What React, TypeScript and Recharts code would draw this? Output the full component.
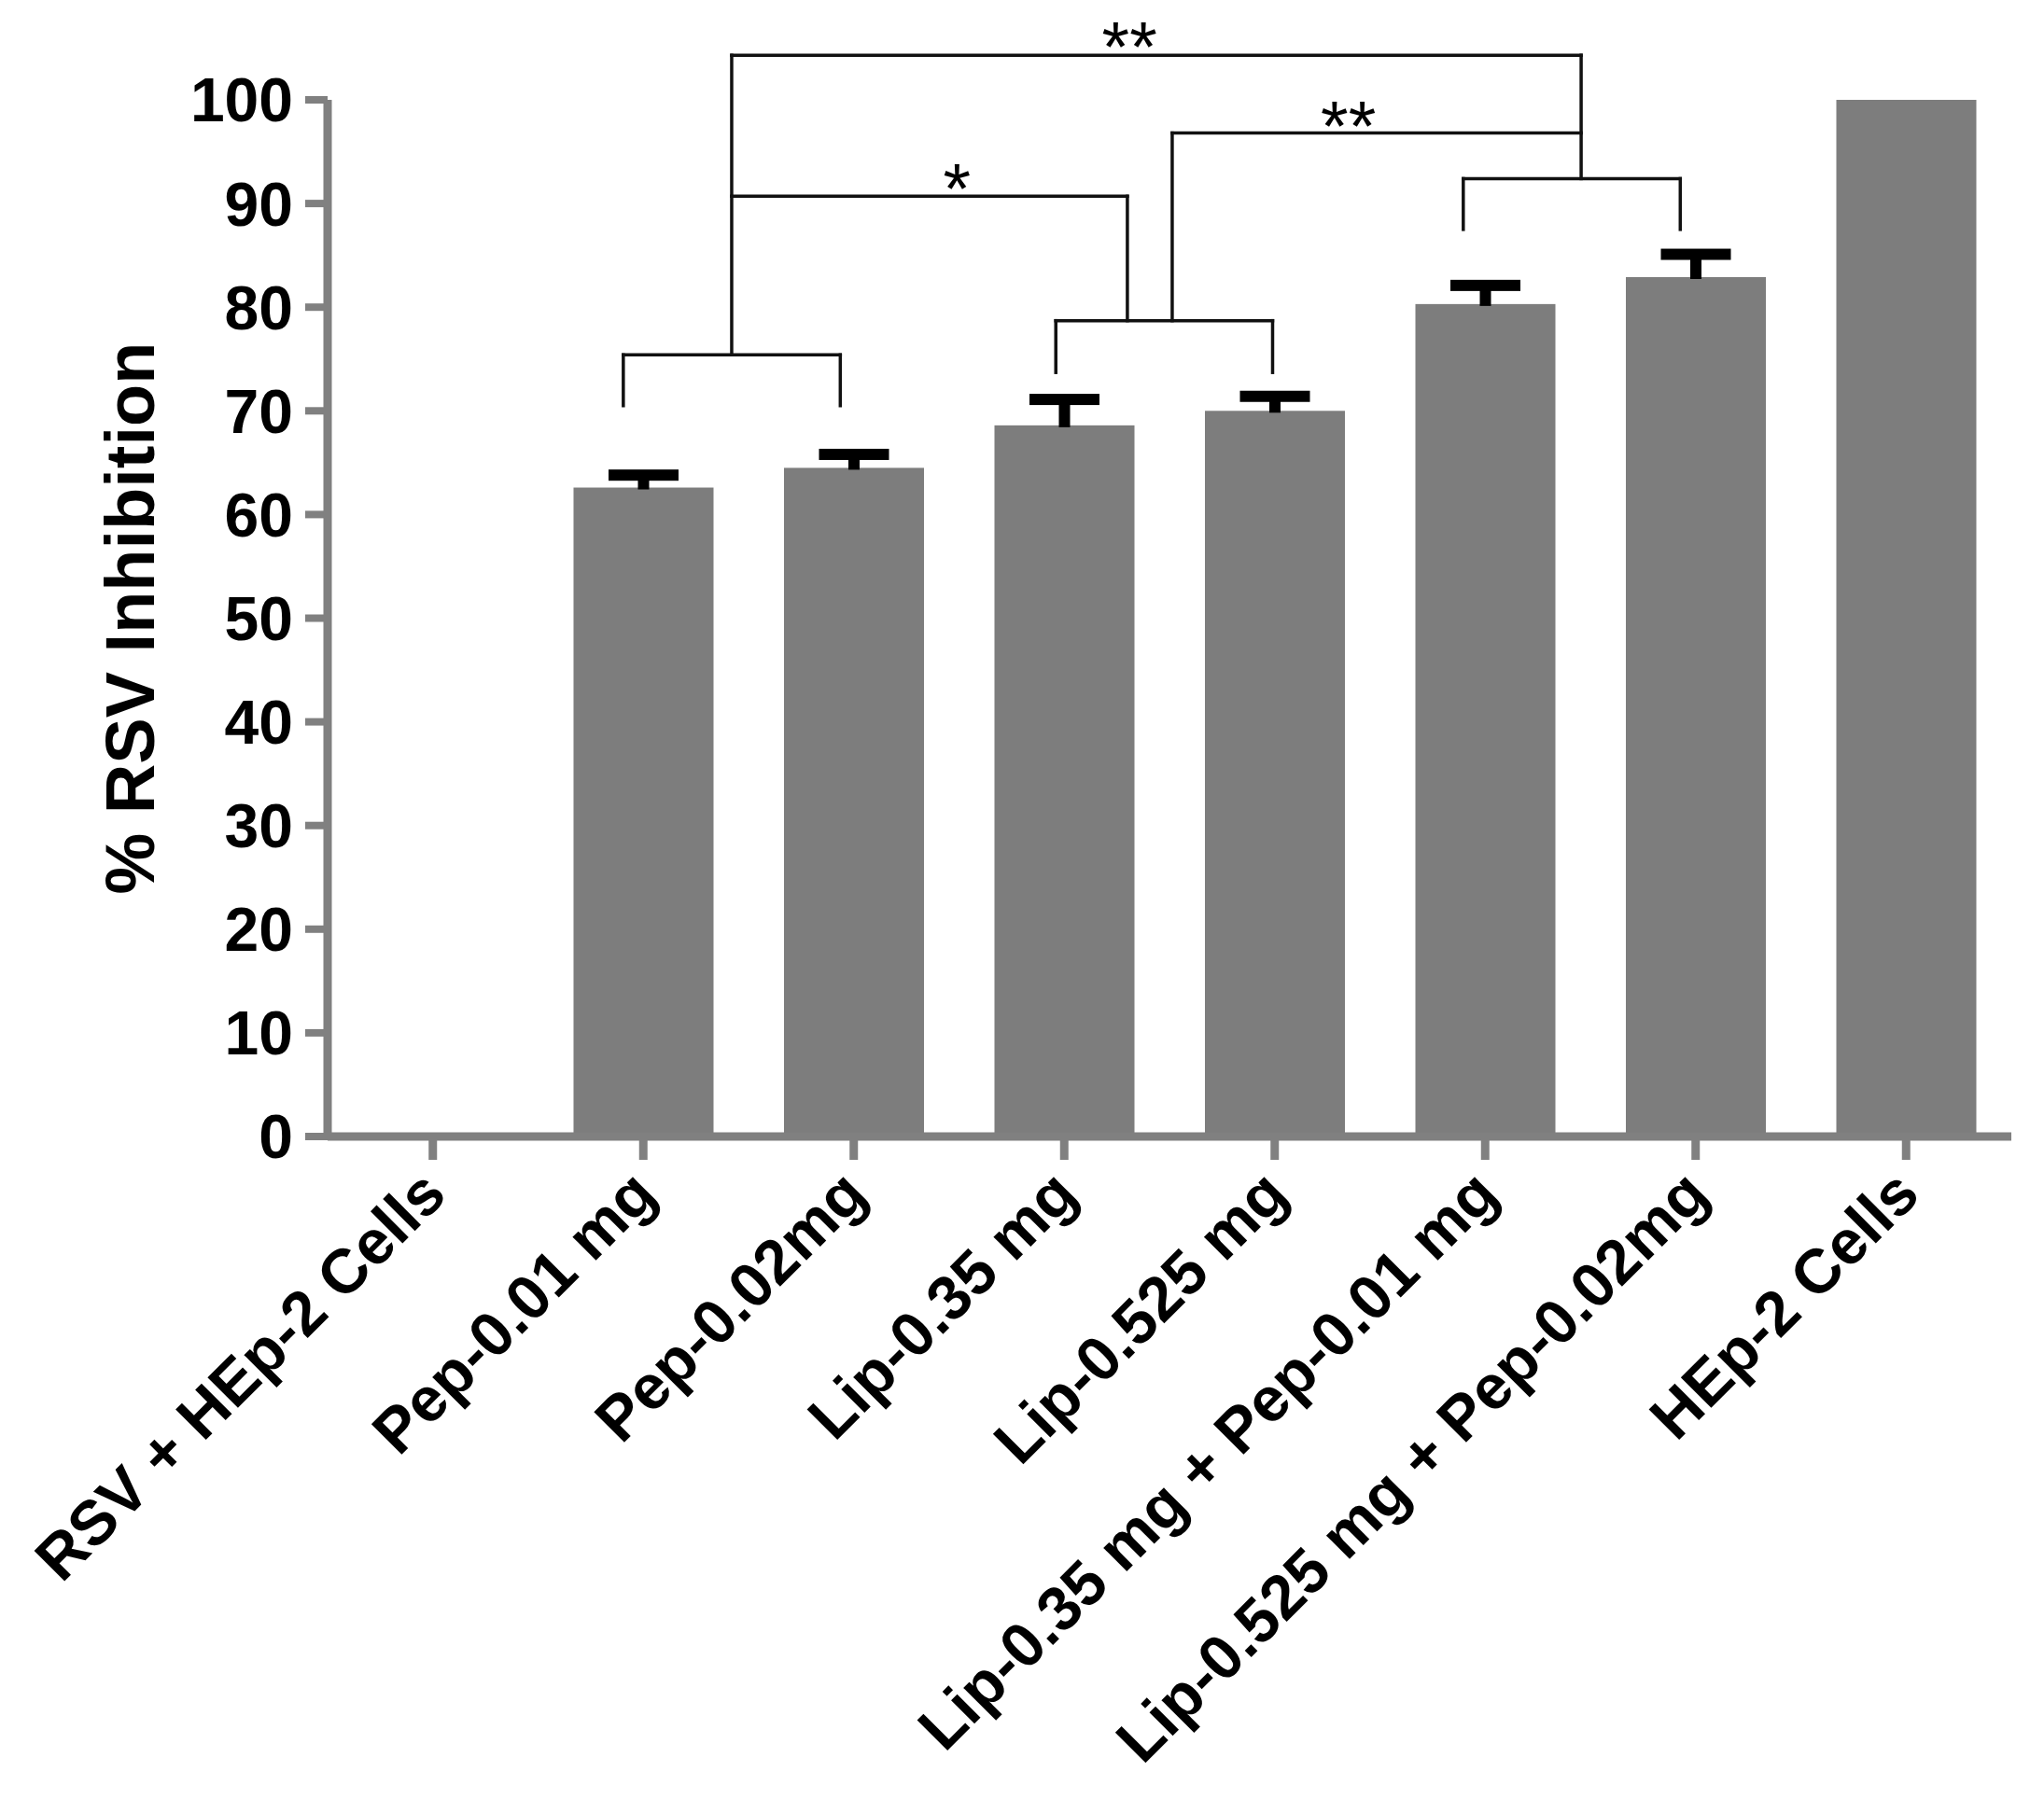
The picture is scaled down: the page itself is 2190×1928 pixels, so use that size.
import React from 'react';
import { ComposedChart, Bar, XAxis, YAxis, ReferenceLine, ReferenceDot } from 'recharts';

const categories = [
  'RSV + HEp-2 Cells',
  'Pep-0.01 mg',
  'Pep-0.02mg',
  'Lip-0.35 mg',
  'Lip-0.525 mg',
  'Lip-0.35 mg + Pep-0.01 mg',
  'Lip-0.525 mg + Pep-0.02mg',
  'HEp-2 Cells',
];
const inhibition = [0, 62.6, 64.5, 68.6, 70.0, 80.3, 82.9, 100];
const errorUp = [0, 1.2, 1.3, 2.5, 1.4, 1.8, 2.2, 0];
const yTicks = [0, 10, 20, 30, 40, 50, 60, 70, 80, 90, 100];
const xTicks = categories.map((_, i) => i);

// significance brackets, [x1, y1, x2, y2] in data units (x = category index)
const bracketSegments = [
  [0.905, 70.5, 0.905, 75.4],
  [0.905, 75.4, 1.936, 75.4],
  [1.936, 75.4, 1.936, 70.5],
  [1.42, 75.4, 1.42, 104.3],
  [2.96, 73.7, 2.96, 78.7],
  [2.96, 78.7, 3.99, 78.7],
  [3.99, 78.7, 3.99, 73.7],
  [3.3, 78.7, 3.3, 90.7],
  [3.513, 78.7, 3.513, 96.8],
  [4.896, 87.5, 4.896, 92.4],
  [4.896, 92.4, 5.927, 92.4],
  [5.927, 92.4, 5.927, 87.5],
  [5.456, 92.4, 5.456, 104.3],
  [1.42, 90.7, 3.3, 90.7],
  [3.513, 96.8, 5.456, 96.8],
  [1.42, 104.3, 5.456, 104.3],
];
const starX = [2.49, 4.35, 3.31];
const starY = [93.0, 99.0, 106.7];
const starText = ['*', '**', '**'];

const data = categories.map((name, i) => ({
  x: i,
  name,
  value: inhibition[i],
  err: errorUp[i],
}));

const FONT = '"Liberation Sans", Arial, sans-serif';
const AXIS_GRAY = '#808080';

const BarWithError = (props: any) => {
  const { x, y, width, height, payload } = props;
  if (!height || height <= 0) return null;
  const pxPerUnit = height / payload.value;
  const e = payload.err * pxPerUnit;
  const cx = x + width / 2;
  return (
    <g>
      <rect x={x} y={y} width={width} height={height} fill="#7d7d7d" />
      {e > 0 && (
        <>
          <rect x={cx - 6} y={y - e} width={12} height={e + 2} fill="#000" />
          <rect x={cx - width / 4} y={y - e - 6} width={width / 2} height={12} fill="#000" />
        </>
      )}
    </g>
  );
};

const CategoryTick = (props: any) => {
  const { x, y, payload } = props;
  const label = categories[payload.value] ?? '';
  return (
    <g transform={`translate(${x + 17},${y + 40})`}>
      <text
        transform="rotate(-45)"
        textAnchor="end"
        fontFamily={FONT}
        fontWeight="bold"
        fontSize={67}
        fill="#000"
      >
        {label}
      </text>
    </g>
  );
};

const YTitle = (props: any) => {
  const vb = props.viewBox || { x: 0, y: 99, width: 343, height: 1111 };
  const tx = vb.x + 157;
  const ty = vb.y + vb.height / 2;
  return (
    <text
      x={tx}
      y={ty}
      transform={`rotate(-90, ${tx}, ${ty})`}
      textAnchor="middle"
      fontFamily={FONT}
      fontWeight="bold"
      fontSize={74}
      fill="#000"
    >
      % RSV Inhibition
    </text>
  );
};

const Star = (text: string) => (props: any) => (
  <text
    x={props.cx}
    y={props.cy}
    dy="0.57em"
    textAnchor="middle"
    fontFamily={FONT}
    fontSize={76}
    fill="#000"
  >
    {text}
  </text>
);

export default function App() {
  return (
    <div style={{ width: 2174, height: 1920, background: '#fff' }}>
      <ComposedChart
        width={2174}
        height={1920}
        data={data}
        margin={{ top: 99, right: 27, left: 0, bottom: 0 }}
      >
        <XAxis
          type="number"
          dataKey="x"
          domain={[-0.5, 7.5]}
          ticks={xTicks}
          interval={0}
          height={710}
          tickSize={25}
          tickMargin={0}
          axisLine={{ stroke: AXIS_GRAY, strokeWidth: 9 }}
          tickLine={{ stroke: AXIS_GRAY, strokeWidth: 9 }}
          tick={<CategoryTick />}
        />
        <YAxis
          type="number"
          domain={[0, 100]}
          ticks={yTicks}
          interval={0}
          width={343}
          tickSize={24}
          tickMargin={13}
          allowDataOverflow
          axisLine={{ stroke: AXIS_GRAY, strokeWidth: 9 }}
          tickLine={{ stroke: AXIS_GRAY, strokeWidth: 8 }}
          tick={{ fill: '#000', fontSize: 66, fontWeight: 'bold', fontFamily: FONT }}
          label={{ content: (p: any) => <YTitle {...p} /> }}
        />
        <Bar dataKey="value" barSize={150} shape={<BarWithError />} isAnimationActive={false} />
        {bracketSegments.map((s, i) => (
          <ReferenceLine
            key={`b${i}`}
            segment={[{ x: s[0], y: s[1] }, { x: s[2], y: s[3] }]}
            stroke="#111"
            strokeWidth={3.5}
            strokeLinecap="square"
            ifOverflow="visible"
          />
        ))}
        {starText.map((t, i) => (
          <ReferenceDot
            key={`s${i}`}
            x={starX[i]}
            y={starY[i]}
            r={0}
            ifOverflow="visible"
            shape={Star(t)}
          />
        ))}
      </ComposedChart>
    </div>
  );
}
